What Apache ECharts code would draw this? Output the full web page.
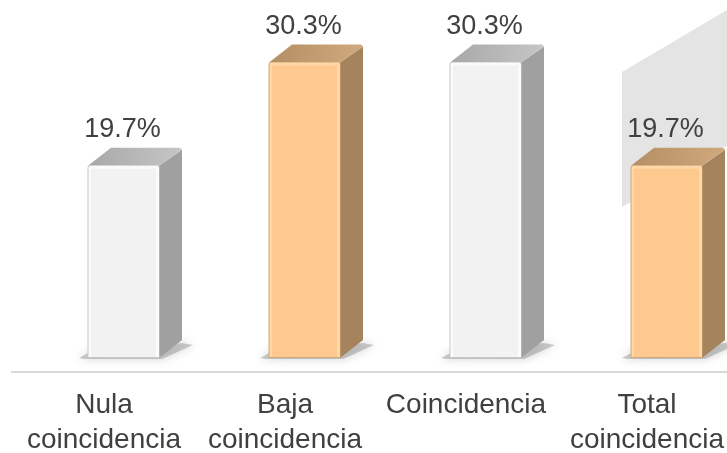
<!DOCTYPE html>
<html>
<head>
<meta charset="utf-8">
<style>html,body{margin:0;padding:0;background:#fff}#c{width:727px;height:453px}</style>
<script src="https://cdn.jsdelivr.net/npm/echarts@6/dist/echarts.min.js"></script>
</head>
<body>
<div id="c"></div>
<script>
const categories = ["Nula\ncoincidencia", "Baja\ncoincidencia", "Coincidencia", "Total\ncoincidencia"];
const values = [19.7, 30.3, 30.3, 19.7];
const valueLabels = ["19.7%", "30.3%", "30.3%", "19.7%"];
const grayBar = {front:"#f2f2f2", edge:"#fbfbfb", dark:"#c8c8c8", side:"#a0a0a0", top1:"#a8a8a8", top2:"#c6c6c6"};
const orangeBar = {front:"#fdc98f", edge:"#ffd7a6", dark:"#d0a878", side:"#a5835c", top1:"#b48f65", top2:"#d0aa7c"};
const palettes = [grayBar, orangeBar, grayBar, orangeBar];
const W = 71, DX = 23, DY = 18, SHIFT = 19.5;
const linear = (x, y, x2, y2, a, b) => new echarts.graphic.LinearGradient(x, y, x2, y2, [{offset:0,color:a},{offset:1,color:b}]);

function renderBar(params, api) {
  const i = api.value(0);
  const p = api.coord([i, api.value(1)]);
  const base = api.coord([i, 0]);
  const l = p[0] + SHIFT - W / 2, r = l + W, t = p[1], b = base[1];
  const c = palettes[i];
  return {type:'group', children:[
    {type:'polygon', shape:{points:[[l-9,b],[l+4,b-7],[r+DX,b-15],[r+DX+11,b-13],[r+3,b+1],[l-4,b+1]]},
      style:{fill:'rgba(130,130,130,0.4)', shadowBlur:10, shadowColor:'rgba(120,120,120,0.8)'}},
    {type:'polygon', shape:{points:[[r,t],[r+DX,t-DY+2],[r+DX,b-DY],[r,b]]}, style:{fill:c.side}},
    {type:'polygon', shape:{points:[[l,t],[l+DX,t-DY],[r+DX-2,t-DY],[r+DX,t-DY+2],[r,t]]},
      style:{fill:linear(0,0,1,0,c.top1,c.top2)}},
    {type:'rect', shape:{x:l-0.5,y:t-0.5,width:W+1,height:b-t+0.5,r:[3,3,0,0]}, style:{fill:c.dark}},
    {type:'rect', shape:{x:l+0.5,y:t,width:W-0.5,height:b-t-1,r:[2,2,0,0]}, style:{fill:c.edge}},
    {type:'rect', shape:{x:l+3,y:t+3,width:W-6,height:b-t-4}, style:{fill:c.front}},
    {type:'text', x:(l+r)/2-1, y:t-36,
      style:{text:valueLabels[i], fill:'#404040', font:'27px "Liberation Sans", Arial, sans-serif', align:'center', verticalAlign:'middle'}}
  ]};
}

const chart = echarts.init(document.getElementById('c'), null, {renderer:'canvas'});
chart.setOption({
  animation:false,
  backgroundColor:'#fff',
  graphic:[
    {type:'polygon', z:0, shape:{points:[[622,72],[727,10],[727,146],[622,207]]}, style:{fill:'#e4e4e4'}},
    {type:'line', z:0, shape:{x1:11,y1:372,x2:727,y2:372}, style:{stroke:'#d9d9d9', lineWidth:2}}
  ],
  grid:{left:13.5, top:0, width:724, height:358, containLabel:false, outerBoundsMode:'none'},
  xAxis:{type:'category', data:categories, offset:14,
    axisLine:{show:false},
    axisTick:{show:false},
    axisLabel:{interval:0, margin:16, color:'#404040', fontSize:28, lineHeight:35, verticalAlign:'top', fontFamily:'"Liberation Sans", Arial, sans-serif'}},
  yAxis:{type:'value', min:0, max:36.7, show:false},
  series:[{type:'custom', z:3, clip:false, renderItem:renderBar,
    encode:{x:0,y:1}, data:values.map((v,i)=>[i,v])}]
});
</script>
</body>
</html>
